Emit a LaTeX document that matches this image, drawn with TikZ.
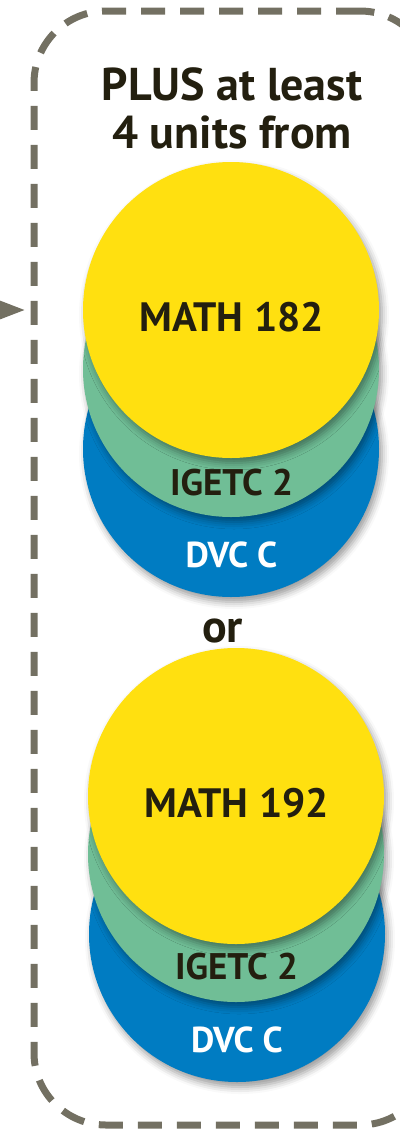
\documentclass[tikz,border=0pt]{standalone}
\usepackage{fontspec}
\setmainfont{PT Sans}
\usetikzlibrary{arrows.meta}
\usetikzlibrary{shadows.blur}

\definecolor{discyellow}{RGB}{255,224,16}
\definecolor{discgreen}{RGB}{112,190,150}
\definecolor{discblue}{RGB}{0,124,194}
\definecolor{inkdark}{RGB}{35,31,15}
\definecolor{framegray}{RGB}{115,112,98}

\tikzset{
  disc/.style={circle, inner sep=0pt, minimum size=296pt,
    blur shadow={shadow xshift=3pt, shadow yshift=-5pt,
      shadow blur radius=7pt, shadow opacity=40}},
  headtext/.style={anchor=base, inner sep=0pt, text=inkdark,
    font=\fontsize{46}{48}\selectfont\bfseries},
  coursetext/.style={anchor=base, inner sep=0pt, text=inkdark,
    font=\fontsize{41}{44}\selectfont\bfseries},
  areatext/.style={anchor=base, inner sep=0pt, font=\fontsize{37}{40}\selectfont\bfseries}
}

\begin{document}
\begin{tikzpicture}[x=1pt, y=-1pt]
\useasboundingbox (0,0) rectangle (399,1130);

% dashed frame, right side runs off the page
\node[draw=framegray, line width=7pt, dash pattern=on 24pt off 15pt,
  rounded corners=72pt, inner sep=0pt, minimum width=398pt,
  minimum height=1114pt] (frame) at (233,568) {};

\coordinate (feed) at (-20,310);
\draw[framegray, line width=2pt, -{Triangle[length=28pt,width=21pt]},
  shorten >=6pt] (feed) -- (frame.west |- feed);

\node[headtext] (plus) at (232,100) {PLUS at least};
\node[headtext] (units) at (232,148) {4 units from};

% first choice
\node[disc, fill=discblue] (dvc1) at (231,449) {};
\node[disc, fill=discgreen] (igetc1) at (231,369) {};
\node[disc, fill=discyellow] (math1) at (231,310) {};
\node[coursetext] (mathname1) at (231.5,331) {MATH 182};
\node[areatext, text=inkdark] (igetcname1) at (231.5,495) {IGETC 2};
\node[areatext, text=white, font=\fontsize{36}{38}\selectfont\bfseries] (dvcname1) at (231.5,567) {DVC C};

\node[headtext] (or) at (222.5,642) {or};

% second choice
\node[disc, fill=discblue] (dvc2) at (237,934) {};
\node[disc, fill=discgreen] (igetc2) at (236,854) {};
\node[disc, fill=discyellow] (math2) at (236,796) {};
\node[coursetext] (mathname2) at (236.5,817) {MATH 192};
\node[areatext, text=inkdark] (igetcname2) at (236.5,979) {IGETC 2};
\node[areatext, text=white, font=\fontsize{36}{38}\selectfont\bfseries] (dvcname2) at (237,1052) {DVC C};

\end{tikzpicture}
\end{document}
